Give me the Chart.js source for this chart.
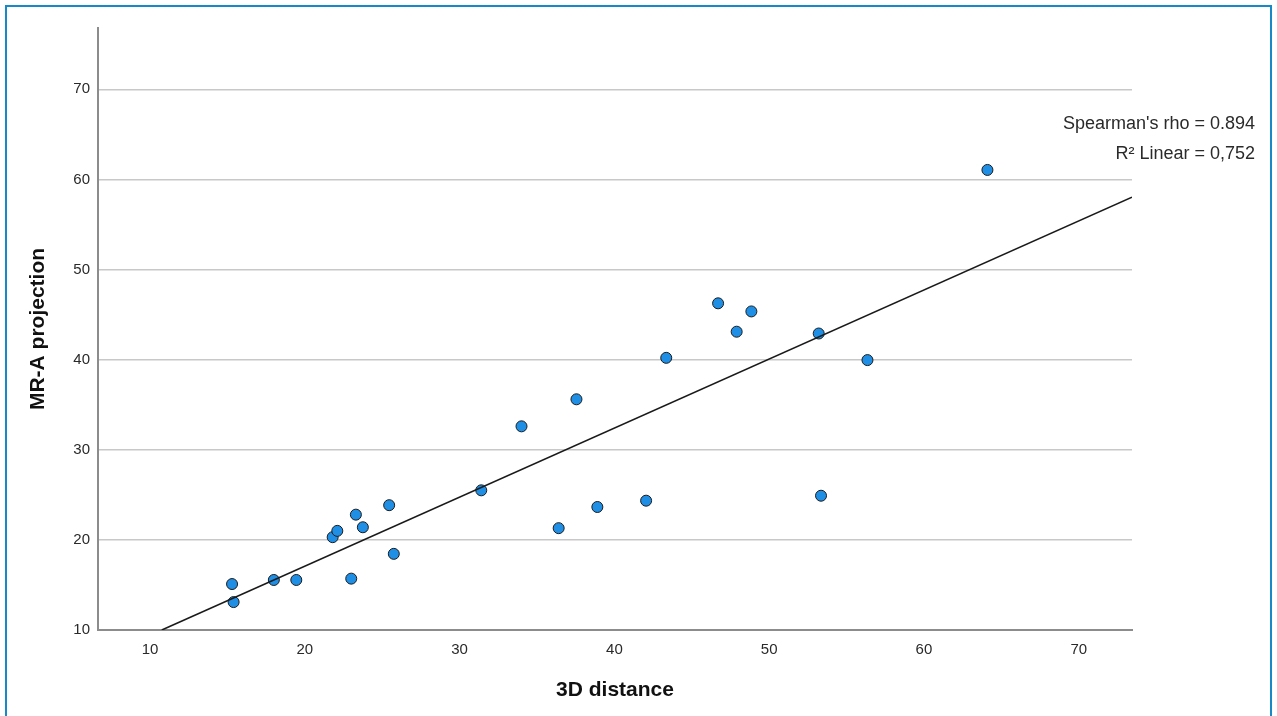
<!DOCTYPE html>
<html>
<head>
<meta charset="utf-8">
<title>MR-A projection vs 3D distance</title>
<script src="https://cdn.jsdelivr.net/npm/chart.js@4.4.1/dist/chart.umd.min.js"></script>
<style>
    html, body { margin: 0; padding: 0; background: #fff; }
    #wrap { position: relative; width: 1277px; height: 716px; overflow: hidden; }
    #chart { position: absolute; left: 0; top: 0; }
    #frame {
        position: absolute; left: 5px; top: 5px; width: 1263px; height: 760px;
        border: 2px solid #1689c9; pointer-events: none;
    }
</style>
</head>
<body>
<div id="wrap">
    <canvas id="chart" width="1277" height="716"></canvas>
    <div id="frame"></div>
</div>
<script>
// values
const distance3D = [15.3, 15.4, 18.0, 19.45, 21.8, 22.1, 23.3, 23.75, 23.0, 25.45, 25.75, 31.4, 34.0, 36.4, 37.55, 38.9, 42.05, 43.35, 46.7, 47.9, 48.85, 53.2, 53.35, 56.35, 64.1];
const mraProjection = [15.1, 13.1, 15.55, 15.55, 20.3, 21.0, 22.8, 21.4, 15.7, 23.85, 18.45, 25.5, 32.6, 21.3, 35.6, 23.65, 24.35, 40.2, 46.25, 43.1, 45.35, 42.9, 24.9, 39.95, 61.05];

// fit line end points (as drawn)
const fitX = [10.76, 73.44];
const fitY = [10, 58.03];

const xTicks = [10, 20, 30, 40, 50, 60, 70];
const yTicks = [10, 20, 30, 40, 50, 60, 70];

const statLabels = ["Spearman's rho = 0.894", "R\u00b2 Linear = 0,752"];

const points = distance3D.map((x, i) => ({ x: x, y: mraProjection[i] }));
const fitLine = fitX.map((x, i) => ({ x: x, y: fitY[i] }));

// puts the stats text to the right of the plot
const statsPlugin = {
    id: 'stats',
    afterDraw(chart) {
        const ctx = chart.ctx;
        const right = chart.chartArea.right + 123;
        const top = chart.chartArea.top;
        ctx.save();
        ctx.font = '18px "Liberation Sans", Arial, sans-serif';
        ctx.fillStyle = '#2a2a2a';
        ctx.textAlign = 'right';
        ctx.textBaseline = 'middle';
        statLabels.forEach((t, i) => {
            ctx.fillText(t, right, top + 96 + i * 30);
        });
        ctx.restore();
    }
};

const tickFont = { family: '"Liberation Sans", Arial, sans-serif', size: 15 };
const titleFont = { family: '"Liberation Sans", Arial, sans-serif', size: 21, weight: 'bold' };

new Chart(document.getElementById('chart'), {
    type: 'scatter',
    data: {
        datasets: [
            {
                type: 'line',
                data: fitLine,
                borderColor: '#1a1a1a',
                borderWidth: 1.6,
                pointRadius: 0,
                fill: false
            },
            {
                data: points,
                backgroundColor: '#1f8fe6',
                borderColor: '#1c1c1c',
                borderWidth: 1,
                pointRadius: 5.5
            }
        ]
    },
    options: {
        responsive: false,
        animation: false,
        layout: { padding: { left: 0, top: 28, right: 145, bottom: 0 } },
        plugins: {
            legend: { display: false },
            tooltip: { enabled: false }
        },
        scales: {
            x: {
                type: 'linear',
                min: 6.64,
                max: 73.44,
                afterFit: s => { s.height = 86; },
                afterBuildTicks: s => { s.ticks = xTicks.map(v => ({ value: v })); },
                grid: { display: false, drawTicks: false },
                border: { display: true, color: '#8c8c8c', width: 2 },
                ticks: { font: tickFont, color: '#2a2a2a', padding: 11, maxRotation: 0 },
                title: { display: true, text: '3D distance', font: titleFont, color: '#111', padding: { top: 0, bottom: 13 } }
            },
            y: {
                type: 'linear',
                min: 10,
                max: 76.8,
                afterFit: s => { s.width = 98; },
                afterBuildTicks: s => { s.ticks = yTicks.map(v => ({ value: v })); },
                grid: { color: '#c8c8c8', lineWidth: 1.5, drawTicks: false },
                border: { display: true, color: '#8c8c8c', width: 2 },
                ticks: { font: tickFont, color: '#2a2a2a', padding: 8 },
                title: { display: true, text: 'MR-A projection', font: titleFont, color: '#111', padding: { top: 26, bottom: 0 } }
            }
        }
    },
    plugins: [statsPlugin]
});
</script>
</body>
</html>
